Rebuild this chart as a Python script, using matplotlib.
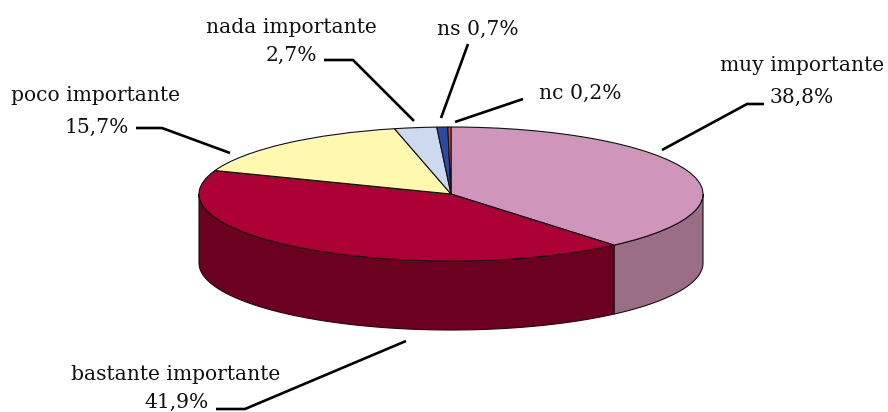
"""3D-look pie: top from ax.pie squashed into an ellipse, side walls drawn under it."""
import numpy as np
import matplotlib.pyplot as plt

W, H = 888, 412

categories = ["muy importante", "bastante importante", "poco importante",
              "nada importante", "ns", "nc"]
values = [38.8, 41.9, 15.7, 2.7, 0.7, 0.2]
value_labels = ["38,8%", "41,9%", "15,7%", "2,7%", "0,7%", "0,2%"]

TOP_COLORS = ["#cf95bb", "#ad0036", "#fff8ae", "#cdd9ee", "#2b4aa0", "#e8402f"]
SIDE_COLORS = ["#9b6e88", "#6b0020", "#a8a373", "#88909e", "#1c316a", "#99291f"]

# pie ellipse box in pixels
LEFT, RIGHT, TOP, BOTTOM = 199, 703, 127, 261
DEPTH = 69 / ((BOTTOM - TOP) / 2)  # wall height in pie units

plt.rcParams["font.family"] = "DejaVu Serif"
fig = plt.figure(figsize=(W / 100, H / 100), dpi=100, facecolor="white")

# overlay in pixel coordinates for texts and leaders
over = fig.add_axes([0, 0, 1, 1], zorder=2)
over.set_xlim(0, W)
over.set_ylim(H, 0)
over.axis("off")
over.patch.set_alpha(0)

ax = fig.add_axes([LEFT / W, 1 - BOTTOM / H, (RIGHT - LEFT) / W, (BOTTOM - TOP) / H], zorder=1)

# side walls: only the front half (90..270 deg clockwise from top) is visible
edges = np.cumsum([0] + values) / sum(values) * 360
for i in range(len(values)):
    a0, a1 = max(edges[i], 90), min(edges[i + 1], 270)
    if a1 <= a0:
        continue
    t = np.radians(np.linspace(a0, a1, 120))
    x, y = np.sin(t), np.cos(t)
    ax.fill(np.r_[x, x[::-1]], np.r_[y, y[::-1] - DEPTH], facecolor=SIDE_COLORS[i],
            edgecolor="#111111", linewidth=0.8, clip_on=False, zorder=1)

wedges, _ = ax.pie(values, colors=TOP_COLORS, startangle=90, counterclock=False, radius=1,
                   wedgeprops={"edgecolor": "#111111", "linewidth": 0.8})
for w in wedges:
    w.set_zorder(2)
    w.set_clip_on(False)
ax.set_aspect("auto")
ax.set_xlim(-1, 1)
ax.set_ylim(-1, 1)
ax.axis("off")

LEADERS = [
    [(662, 150), (747, 104), (764, 104)],
    [(406, 341), (245, 409), (216, 409)],
    [(230, 153), (162, 128), (136, 128)],
    [(414, 121), (353, 60), (324, 60)],
    [(441, 118), (468, 44)],
    [(455, 122), (523, 99)],
]
for pts in LEADERS:
    xs, ys = zip(*pts)
    over.plot(xs, ys, color="black", lw=1.9, solid_capstyle="butt", solid_joinstyle="miter")

TXT = dict(fontsize=14.6, color="#111111", va="center", ha="center")
over.text(802, 65, categories[0], **TXT)
over.text(802, 97, value_labels[0], **TXT)
over.text(176, 374, categories[1], **TXT)
over.text(176, 402, value_labels[1], **TXT)
over.text(95, 95, categories[2], **TXT)
over.text(97, 127, value_labels[2], **TXT)
over.text(291, 27, categories[3], **TXT)
over.text(291, 55, value_labels[3], **TXT)
over.text(478, 29, f"{categories[4]} {value_labels[4]}", **TXT)
over.text(580, 93, f"{categories[5]} {value_labels[5]}", **TXT)

fig.savefig("out.png", dpi=100, facecolor="white")
